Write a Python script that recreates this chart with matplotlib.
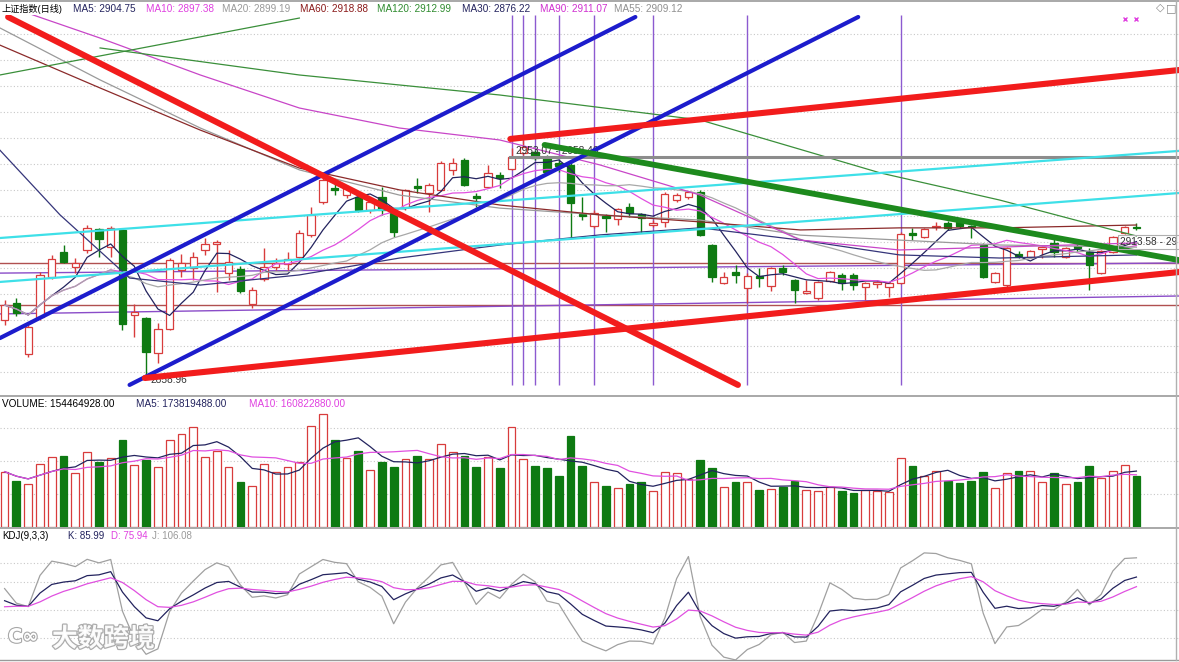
import numpy as np
import pandas as pd
import matplotlib
matplotlib.use("Agg")
import matplotlib.pyplot as plt
import matplotlib.patheffects as pe

plt.rcParams['font.family'] = ['Liberation Sans', 'Noto Sans CJK SC', 'DejaVu Sans']

# ---------------- data ----------------
opens = [2881.3, 2887.8, 2868.2, 2882.4, 2897.8, 2907.4, 2901.7, 2908.2, 2916.3, 2909.3,
         2915.9, 2883.2, 2882.0, 2868.6, 2877.8, 2900.5, 2901.3, 2908.2, 2910.5, 2899.3,
         2900.9, 2887.4, 2897.0, 2901.7, 2902.8, 2905.5, 2914.0, 2926.7, 2932.0, 2929.3,
         2928.6, 2923.6, 2928.6, 2922.8, 2924.7, 2932.8, 2930.1, 2931.3, 2939.0, 2942.8,
         2929.0, 2932.4, 2937.0, 2939.3, 2945.5, 2945.9, 2943.6, 2941.7, 2940.9, 2922.0,
         2917.4, 2921.3, 2920.1, 2924.7, 2922.0, 2917.8, 2919.0, 2927.4, 2928.6, 2930.5,
         2910.1, 2895.5, 2899.7, 2893.6, 2898.2, 2894.3, 2901.3, 2896.7, 2891.7, 2889.7,
         2896.3, 2898.6, 2898.6, 2894.0, 2895.1, 2894.0, 2895.5, 2914.7, 2913.2, 2917.0,
         2918.6, 2919.0, 2917.4, 2910.1, 2895.9, 2894.7, 2906.7, 2905.5, 2908.6, 2910.9,
         2905.5, 2909.7, 2907.4, 2899.3, 2907.4, 2914.7, 2917.0]
highs = [2889.0, 2889.7, 2880.5, 2899.7, 2906.3, 2910.1, 2905.1, 2917.8, 2916.7, 2917.4,
         2916.3, 2887.4, 2882.4, 2880.1, 2905.1, 2906.7, 2907.4, 2912.8, 2912.0, 2908.2,
         2902.0, 2894.0, 2909.0, 2905.1, 2907.4, 2915.9, 2924.7, 2935.9, 2934.0, 2933.2,
         2929.3, 2928.2, 2932.4, 2924.3, 2931.7, 2935.9, 2934.0, 2942.4, 2943.6, 2943.6,
         2930.1, 2940.9, 2938.2, 2947.4, 2950.5, 2946.7, 2944.7, 2942.8, 2942.8, 2928.6,
         2923.6, 2922.0, 2924.3, 2926.3, 2922.4, 2919.7, 2930.5, 2930.1, 2930.9, 2931.3,
         2910.5, 2899.7, 2902.4, 2899.3, 2901.3, 2901.7, 2902.4, 2897.0, 2896.7, 2896.3,
         2900.1, 2899.3, 2899.3, 2895.9, 2896.7, 2895.9, 2915.1, 2916.7, 2916.7, 2919.0,
         2919.3, 2919.7, 2917.8, 2910.9, 2899.7, 2909.3, 2907.8, 2908.2, 2909.7, 2914.0,
         2909.3, 2910.5, 2909.0, 2908.2, 2913.6, 2917.4, 2918.6]
lows = [2879.3, 2882.8, 2867.0, 2881.3, 2897.0, 2903.2, 2899.3, 2907.0, 2905.5, 2905.5,
        2877.4, 2874.7, 2858.96, 2864.7, 2877.4, 2897.8, 2896.7, 2906.3, 2892.0, 2896.7,
        2891.7, 2885.9, 2896.3, 2900.5, 2900.5, 2905.1, 2913.2, 2925.9, 2929.3, 2928.2,
        2922.8, 2922.4, 2921.7, 2913.2, 2923.6, 2930.1, 2922.8, 2930.9, 2937.0, 2932.8,
        2924.7, 2932.0, 2932.0, 2939.0, 2944.7, 2942.8, 2937.4, 2938.2, 2912.8, 2919.7,
        2916.7, 2915.1, 2917.8, 2920.9, 2914.7, 2917.0, 2917.0, 2926.7, 2927.8, 2913.6,
        2895.9, 2895.1, 2895.5, 2887.8, 2894.0, 2892.4, 2898.6, 2887.8, 2891.3, 2889.0,
        2895.9, 2892.8, 2892.8, 2889.0, 2893.6, 2890.1, 2895.1, 2912.0, 2912.8, 2915.9,
        2915.9, 2916.7, 2912.8, 2897.4, 2895.5, 2894.0, 2905.1, 2905.1, 2905.1, 2905.5,
        2905.1, 2907.4, 2892.8, 2899.0, 2907.0, 2914.3, 2915.9]
closes = [2887.0, 2884.0, 2878.6, 2898.6, 2904.7, 2903.6, 2903.2, 2916.7, 2912.4, 2916.7,
          2879.7, 2884.3, 2869.0, 2877.8, 2904.3, 2903.2, 2905.5, 2910.5, 2911.3, 2903.6,
          2892.4, 2892.8, 2901.7, 2903.2, 2904.7, 2914.7, 2921.7, 2935.1, 2931.3, 2932.0,
          2923.6, 2926.7, 2923.6, 2915.1, 2931.3, 2932.0, 2933.2, 2941.7, 2941.7, 2933.2,
          2928.2, 2937.8, 2935.9, 2944.0, 2947.8, 2943.6, 2938.2, 2940.5, 2926.3, 2921.3,
          2922.4, 2920.5, 2924.0, 2922.4, 2920.5, 2918.6, 2929.7, 2929.3, 2930.5, 2914.0,
          2897.8, 2897.8, 2898.6, 2898.2, 2897.4, 2901.3, 2899.7, 2892.8, 2892.4, 2895.9,
          2899.7, 2895.5, 2894.7, 2895.5, 2895.9, 2895.5, 2914.3, 2914.0, 2916.3, 2917.4,
          2916.7, 2917.4, 2917.0, 2897.8, 2899.3, 2909.0, 2905.9, 2907.8, 2909.3, 2907.4,
          2909.0, 2909.0, 2902.4, 2907.8, 2913.2, 2917.0, 2916.7]
# daily volume (shares)
volumes = [167.6e6, 140.3e6, 129.4e6, 190.9e6, 213.0e6, 215.1e6, 162.7e6, 226.3e6, 196.0e6, 210.0e6,
           263.6e6, 187.9e6, 203.0e6, 182.7e6, 263.6e6, 280.9e6, 303.9e6, 213.0e6, 231.2e6, 180.9e6,
           137.3e6, 125.1e6, 190.9e6, 167.6e6, 182.7e6, 196.0e6, 305.1e6, 342.4e6, 263.6e6, 208.2e6,
           231.2e6, 172.7e6, 196.0e6, 180.9e6, 205.1e6, 216.0e6, 205.1e6, 250.6e6, 226.3e6, 215.1e6,
           182.7e6, 213.0e6, 179.7e6, 302.1e6, 205.1e6, 185.7e6, 179.7e6, 154.5e6, 275.7e6, 185.7e6,
           135.4e6, 124.2e6, 117.3e6, 129.4e6, 137.3e6, 109.1e6, 167.6e6, 162.7e6, 144.5e6, 203.0e6,
           177.9e6, 120.3e6, 135.4e6, 135.4e6, 112.1e6, 114.2e6, 122.1e6, 139.4e6, 112.1e6, 109.1e6,
           120.3e6, 110.0e6, 102.1e6, 112.1e6, 110.0e6, 107.0e6, 210.0e6, 185.7e6, 154.5e6, 169.7e6,
           139.4e6, 132.4e6, 140.3e6, 167.6e6, 119.1e6, 164.5e6, 169.7e6, 169.7e6, 135.4e6, 162.7e6,
           130.3e6, 135.4e6, 185.7e6, 149.4e6, 169.7e6, 187.9e6, 154464928.0]

# long moving averages (bar index, price)
ma90_idx = [1.7, 8.1, 16.6, 25.0, 33.5, 42.0, 50.5, 59.0, 67.5, 75.9, 84.4, 96.0]
ma90_val = [2999.7, 2989.7, 2975.5, 2962.8, 2955.1, 2950.5, 2940.9, 2929.3, 2912.0, 2908.2, 2909.3, 2910.9]
ma60_idx = [-0.4, 8.1, 16.6, 25.0, 33.5, 42.0, 50.5, 59.0, 67.5, 75.9, 84.4, 96.0]
ma60_val = [2987.0, 2970.5, 2954.3, 2939.7, 2931.3, 2925.5, 2921.7, 2919.0, 2915.9, 2916.7, 2916.7, 2917.8]
ma55_idx = [-0.4, 8.1, 16.6, 25.0, 33.5, 42.0, 50.5, 59.0, 67.5, 75.9, 84.4, 96.0]
ma55_val = [2993.6, 2973.6, 2955.1, 2939.0, 2929.3, 2924.3, 2921.7, 2919.7, 2913.9, 2912.0, 2910.1, 2909.3]
ma120_idx = [8.1, 25.0, 42.0, 59.0, 74.3, 84.4, 94.0, 96.0]
ma120_val = [2985.9, 2975.5, 2967.8, 2958.2, 2937.8, 2927.4, 2915.9, 2913.6]
ma30_idx = [-0.4, 4.7, 10.6, 16.6, 25.0, 33.5, 42.0, 50.5, 59.0, 67.5, 75.9, 84.4, 96.0]
ma30_val = [2946.6, 2921.7, 2897.4, 2894.7, 2898.6, 2905.1, 2910.1, 2914.0, 2916.7, 2912.0, 2906.3, 2905.1, 2906.3]

# drawn trend lines: (start index, start price, end index, end price)
red_lines = [(0.3, 2997.8, 62.2, 2856.3), (11.9, 2858.96, 99.6, 2899.7), (42.9, 2950.9, 99.6, 2977.4)]
blue_lines = [(-0.4, 2874.3, 53.5, 2997.8), (10.6, 2856.3, 72.4, 2997.8)]
green_lines = [(45.8, 2948.6, 99.6, 2904.3)]
cyan_lines = [(-0.4, 2912.8, 99.6, 2946.3), (-0.4, 2895.9, 99.6, 2930.1)]
thin_green_lines = [(-0.4, 2975.5, 25.0, 2997.4)]
gray_hline = (42.9, 2943.96, 99.6)
brown_hlines = [2903.2, 2887.0]
purple_lines = [(-0.4, 2899.3, 99.6, 2903.2), (-0.4, 2883.6, 99.6, 2890.5)]
marker_bars = [43, 44, 45, 47, 50, 55, 63, 76]

legend_main = [("上证指数(日线)", "#000000", 2), ("MA5: 2904.75", "#23235e", 73),
               ("MA10: 2897.38", "#e040e0", 146), ("MA20: 2899.19", "#9a9a9a", 222),
               ("MA60: 2918.88", "#8b1a1a", 300), ("MA120: 2912.99", "#2e8b2e", 377),
               ("MA30: 2876.22", "#23235e", 462), ("MA90: 2911.07", "#d030d0", 540),
               ("MA55: 2909.12", "#909090", 614)]
legend_vol = [("VOLUME: 154464928.00", "#000000", 2), ("MA5: 173819488.00", "#23235e", 136),
              ("MA10: 160822880.00", "#e040e0", 249)]
legend_kdj = [("KDJ(9,3,3)", "#000000", 2), ("K: 85.99", "#23235e", 68),
              ("D: 75.94", "#e040e0", 111), ("J: 106.08", "#9a9a9a", 152)]

# ---------------- derived ----------------
n = len(closes)
idx = np.arange(n)
o = np.array(opens); h = np.array(highs); l = np.array(lows); c = np.array(closes)
v = np.array(volumes)
up = c >= o
cs = pd.Series(c)
ma5 = cs.rolling(5, min_periods=1).mean()
ma10 = cs.rolling(10, min_periods=1).mean()
ma20 = cs.rolling(20, min_periods=1).mean()
vs = pd.Series(v)
vma5 = vs.rolling(5, min_periods=1).mean()
vma10 = vs.rolling(10, min_periods=1).mean()

low9 = pd.Series(l).rolling(9, min_periods=1).min()
high9 = pd.Series(h).rolling(9, min_periods=1).max()
rsv = ((cs - low9) / (high9 - low9) * 100).values
K, D = [], []
k = d = 50.0
for r in rsv:
    k = 2 / 3 * k + r / 3
    d = 2 / 3 * d + k / 3
    K.append(k); D.append(d)
K = np.array(K); D = np.array(D); J = 3 * K - 2 * D

# ---------------- figure ----------------
W, H = 1179, 662
fig = plt.figure(figsize=(W / 100, H / 100), dpi=100)
fig.patch.set_facecolor("white")

def fy(py):
    return 1 - py / H

XL = (-0.39, 99.61)
ax = fig.add_axes([0, fy(395), 1, (395 - 15) / H])
axv = fig.add_axes([0, fy(527), 1, (527 - 396) / H])
axk = fig.add_axes([0, fy(660), 1, (660 - 528) / H])
for a in (ax, axv, axk):
    a.set_xlim(*XL)
    for s in a.spines.values():
        s.set_visible(False)
    a.tick_params(left=False, bottom=False, labelleft=False, labelbottom=False)
    a.set_facecolor("white")

grid_kw = dict(color="#c8c8c8", lw=0.8, ls=(0, (1, 2)), zorder=0)

# ---- main panel
ax.set_ylim(2852.42, 2998.57)
for gp in np.arange(2861.3, 2995, 10):
    ax.axhline(gp, **grid_kw)

RED = "#d83c3c"; GRN = "#0e7a12"
ax.vlines(idx, l, h, colors=[RED if u else GRN for u in up], lw=1.0, zorder=2)
body_h = np.abs(c - o)
ax.bar(idx, np.maximum(body_h, 0.01), bottom=np.minimum(o, c), width=0.62,
       color=["white" if u else GRN for u in up], edgecolor=[RED if u else GRN for u in up],
       lw=0.9, zorder=3)

# horizontal / sloped reference lines
for hp in brown_hlines:
    ax.axhline(hp, color="#b05050", lw=1.0, zorder=1.5)
for x0, y0, x1, y1 in purple_lines:
    ax.plot([x0, x1], [y0, y1], color="#8a4cc8", lw=1.0, zorder=1.5)
ax.vlines(marker_bars, 2856.3, 2998.57, colors="#8c5ad0", lw=1.0, zorder=1.6)

# moving averages
ax.plot(idx, ma5, color="#23235e", lw=0.9, zorder=4)
ax.plot(idx, ma10, color="#e050e0", lw=0.9, zorder=4)
ax.plot(idx, ma20, color="#a8a8a8", lw=0.9, zorder=4)
ax.plot(ma30_idx, ma30_val, color="#35357a", lw=0.9, zorder=4)
ax.plot(ma55_idx, ma55_val, color="#9a9a9a", lw=0.9, zorder=4)
ax.plot(ma60_idx, ma60_val, color="#8b2a2a", lw=0.9, zorder=4)
ax.plot(ma90_idx, ma90_val, color="#c846c8", lw=0.9, zorder=4)
ax.plot(ma120_idx, ma120_val, color="#3a8f3a", lw=0.9, zorder=4)
for x0, y0, x1, y1 in thin_green_lines:
    ax.plot([x0, x1], [y0, y1], color="#3a8f3a", lw=0.9, zorder=4)

# drawn lines
ax.plot([gray_hline[0], gray_hline[2]], [gray_hline[1]] * 2, color="#8c8c8c", lw=2.2, zorder=5)
for x0, y0, x1, y1 in cyan_lines:
    ax.plot([x0, x1], [y0, y1], color="#3ee0e8", lw=1.6, zorder=5)
for x0, y0, x1, y1 in blue_lines:
    ax.plot([x0, x1], [y0, y1], color="#1c1ccc", lw=3.0, zorder=6, solid_capstyle="round")
for x0, y0, x1, y1 in green_lines:
    ax.plot([x0, x1], [y0, y1], color="#1d8a1d", lw=4.2, zorder=6, solid_capstyle="round")
for x0, y0, x1, y1 in red_lines:
    ax.plot([x0, x1], [y0, y1], color="#f21c1c", lw=4.4, zorder=6.5, solid_capstyle="round")

ax.text(12.4, 2858.96 - 0.6, "2858.96", fontsize=7.3, color="#333333", va="center", ha="left", zorder=5.5)
ax.text(43.4, 2946.3, "2953.07 - 2958.46", fontsize=7.3, color="#333333", va="center", ha="left", zorder=5.5)
ax.text(94.6, 2911.3, "2913.58 - 29", fontsize=7.3, color="#333333", va="center", ha="left", zorder=7,
        bbox=dict(facecolor="none", edgecolor="#b0b0b0", lw=0.8, pad=1.5))
ax.plot([95, 96], [2997.0, 2997.0], ls="none", marker="x", ms=3.5, color="#e040e0", mew=1.0, zorder=8)

# ---- volume panel
axv.set_ylim(0, 396.9e6)
for gv in (1e8, 2e8, 3e8):
    axv.axhline(gv, **grid_kw)
axv.bar(idx, v, width=0.66, color=["white" if u else GRN for u in up],
        edgecolor=[RED if u else GRN for u in up], lw=0.9, zorder=2)
axv.plot(idx, vma5, color="#23235e", lw=0.9, zorder=3)
axv.plot(idx, vma10, color="#e050e0", lw=0.9, zorder=3)

# ---- KDJ panel
axk.set_ylim(-4, 138)
for gk in (20, 50, 80, 100):
    axk.axhline(gk, **grid_kw)
axk.plot(idx, J, color="#a0a0a0", lw=0.9, zorder=2)
axk.plot(idx, K, color="#23235e", lw=0.9, zorder=3)
axk.plot(idx, D, color="#e050e0", lw=0.9, zorder=3)

# ---- frame lines and legends
def hline_px(py, color="#a0a0a0", lw=1.0):
    fig.add_artist(plt.Line2D([0, 1], [fy(py), fy(py)], transform=fig.transFigure, color=color, lw=lw))

hline_px(0.5, "#9a9a9a", 1.2)
hline_px(395.5, "#9a9a9a", 1.2)
hline_px(527.5, "#9a9a9a", 1.2)
hline_px(659.5, "#9a9a9a", 1.0)
fig.add_artist(plt.Line2D([1176 / W, 1176 / W], [fy(0), fy(660)], transform=fig.transFigure,
                          color="#b0b0b0", lw=1.0))

def legend_row(items, py, size=7.2):
    for txt, col, px in items:
        fig.text(px / W, fy(py), txt, color=col, fontsize=size, va="center", ha="left",
                 family=["Liberation Sans", "Noto Sans CJK SC", "DejaVu Sans"])

legend_row(legend_main[:1], 8.5, 6.6)
legend_row(legend_main[1:], 8.5)
legend_row(legend_vol, 404)
legend_row(legend_kdj, 536, 7.0)
fig.text(1160 / W, fy(8), "◇", fontsize=8, color="#888888", va="center", ha="center", family="DejaVu Sans")
fig.text(1171 / W, fy(8), "□", fontsize=8, color="#888888", va="center", ha="center", family="DejaVu Sans")

# watermark
fig.text(52 / W, fy(639), "大数跨境", fontsize=18.5, color="white", va="center", ha="left",
         family=["Noto Sans CJK SC"], weight="bold", alpha=0.95,
         path_effects=[pe.withStroke(linewidth=1.8, foreground="#a8a8a8")])
fig.text(8 / W, fy(637), "C∞", fontsize=14, color="white", va="center", ha="left",
         family="DejaVu Sans", weight="bold",
         path_effects=[pe.withStroke(linewidth=1.6, foreground="#a8a8a8")])

fig.savefig("out.png", dpi=100, facecolor="white")
